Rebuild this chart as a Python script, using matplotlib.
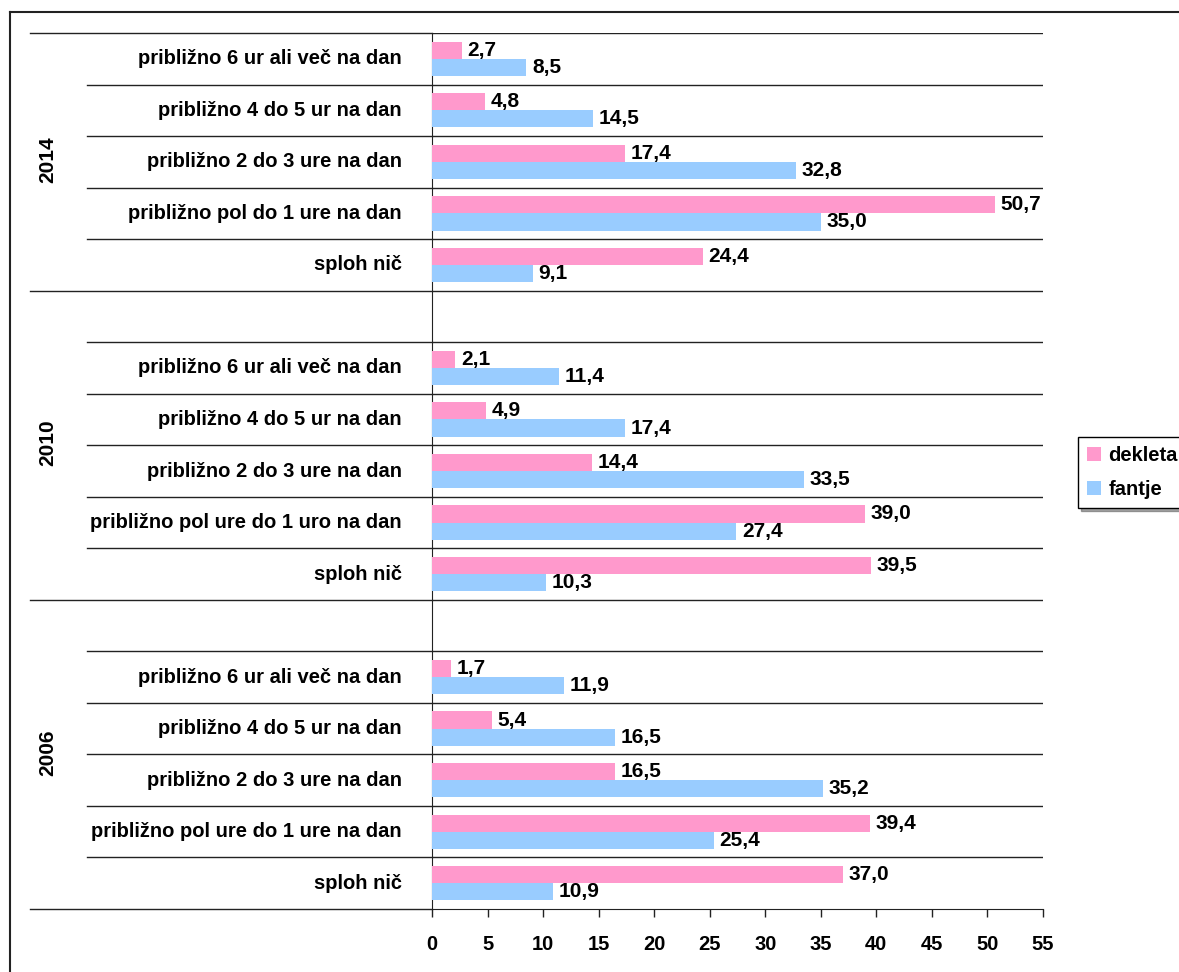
import matplotlib
matplotlib.use('Agg')
import matplotlib.pyplot as plt
from matplotlib.lines import Line2D
from matplotlib.transforms import blended_transform_factory
import numpy as np

plt.rcParams['font.family'] = ['Liberation Sans', 'DejaVu Sans']
plt.rcParams['font.weight'] = 'bold'

# Data (top to bottom within each year)
years = ['2014', '2010', '2006']
cats_2014 = ['približno 6 ur ali več na dan', 'približno 4 do 5 ur na dan',
             'približno 2 do 3 ure na dan', 'približno pol do 1 ure na dan', 'sploh nič']
cats_2010 = ['približno 6 ur ali več na dan', 'približno 4 do 5 ur na dan',
             'približno 2 do 3 ure na dan', 'približno pol ure do 1 uro na dan', 'sploh nič']
cats_2006 = ['približno 6 ur ali več na dan', 'približno 4 do 5 ur na dan',
             'približno 2 do 3 ure na dan', 'približno pol ure do 1 ure na dan', 'sploh nič']

dekleta_2014 = [2.7, 4.8, 17.4, 50.7, 24.4]
fantje_2014 = [8.5, 14.5, 32.8, 35.0, 9.1]
dekleta_2010 = [2.1, 4.9, 14.4, 39.0, 39.5]
fantje_2010 = [11.4, 17.4, 33.5, 27.4, 10.3]
dekleta_2006 = [1.7, 5.4, 16.5, 39.4, 37.0]
fantje_2006 = [11.9, 16.5, 35.2, 25.4, 10.9]

x_ticks = list(range(0, 56, 5))

pink = '#FF99CC'
blue = '#99CCFF'
line_col = '#222222'
fs = 14.5

# Slot layout: 2014 has 5 slots, 2010 and 2006 have an empty slot on top
groups = [
    (cats_2014, dekleta_2014, fantje_2014, 0),
    (cats_2010, dekleta_2010, fantje_2010, 1),
    (cats_2006, dekleta_2006, fantje_2006, 1),
]
slots_labels, slots_d, slots_f, slot_pos = [], [], [], []
group_bounds = []
k = 0
for cats, d, f, empty in groups:
    start = k
    k += empty
    for c, dv, fv in zip(cats, d, f):
        slots_labels.append(c)
        slots_d.append(dv)
        slots_f.append(fv)
        slot_pos.append(k)
        k += 1
    group_bounds.append((start, k))
n_slots = k

W, H = 1179, 972
fig = plt.figure(figsize=(W / 100, H / 100), dpi=100)
x0, x1, y0, y1 = 432, 1043, 33, 909
ax = fig.add_axes([x0 / W, 1 - y1 / H, (x1 - x0) / W, (y1 - y0) / H])

pos = np.array(slot_pos, dtype=float)
bh = 1 / 3
bd = ax.barh(pos - bh / 2, slots_d, height=bh, color=pink, label='dekleta', zorder=3)
bf = ax.barh(pos + bh / 2, slots_f, height=bh, color=blue, label='fantje', zorder=3)

for bars, vals in ((bd, slots_d), (bf, slots_f)):
    for b, v in zip(bars, vals):
        ax.annotate(f'{v:.1f}'.replace('.', ','),
                    (b.get_width(), b.get_y() + b.get_height() / 2),
                    xytext=(4, 0), textcoords='offset points',
                    ha='left', va='center', fontsize=15, fontweight='bold',
                    zorder=4, annotation_clip=False)

ax.set_xlim(0, 55)
ax.set_ylim(n_slots - 0.5, -0.5)
ax.set_xticks(x_ticks)
ax.set_xticklabels([str(t) for t in x_ticks], fontsize=fs, fontweight='bold')
ax.tick_params(axis='x', direction='out', length=6, width=1, color=line_col, pad=13)
ax.set_yticks([])
for s in ['top', 'right']:
    ax.spines[s].set_visible(False)
ax.spines['left'].set_color(line_col)
ax.spines['bottom'].set_color(line_col)

# horizontal gridlines at slot boundaries
for b in np.arange(-0.5, n_slots - 0.5, 1):
    ax.axhline(b, color=line_col, lw=1, zorder=1)

# category-axis lines and labels in the left area
tr = blended_transform_factory(fig.transFigure, ax.transData)
starts = {g[0] for g in group_bounds} | {n_slots}
for b in range(0, n_slots + 1):
    xl = 30 if b in starts else 87
    ax.add_line(Line2D([xl / W, x0 / W], [b - 0.5, b - 0.5], transform=tr,
                       color=line_col, lw=1, clip_on=False))
for lbl, p in zip(slots_labels, slot_pos):
    ax.text(402 / W, p, lbl, transform=tr, ha='right', va='center',
            fontsize=fs, fontweight='bold')
for yr, (s, e) in zip(years, group_bounds):
    ax.text(48 / W, (s + e - 1) / 2 - 0.04, yr, transform=tr, rotation=90,
            ha='center', va='center', fontsize=15, fontweight='bold')

# chart frame (left and top)
fig.add_artist(Line2D([10 / W, 10 / W], [0, 1 - 12 / H], transform=fig.transFigure,
                      color=line_col, lw=1.5))
fig.add_artist(Line2D([10 / W, 1], [1 - 12 / H, 1 - 12 / H], transform=fig.transFigure,
                      color=line_col, lw=1.5))

leg = fig.legend(handles=[bd, bf], loc='upper left',
                 bbox_to_anchor=(1078 / W, 1 - 437 / H), bbox_transform=fig.transFigure,
                 frameon=True, fancybox=False, shadow=True, edgecolor='black',
                 prop={'size': fs, 'weight': 'bold'}, handlelength=0.7, handleheight=0.7,
                 handletextpad=0.35, borderpad=0.45, labelspacing=0.75, borderaxespad=0)
leg.get_frame().set_linewidth(1)

fig.savefig('out.png', dpi=100)
